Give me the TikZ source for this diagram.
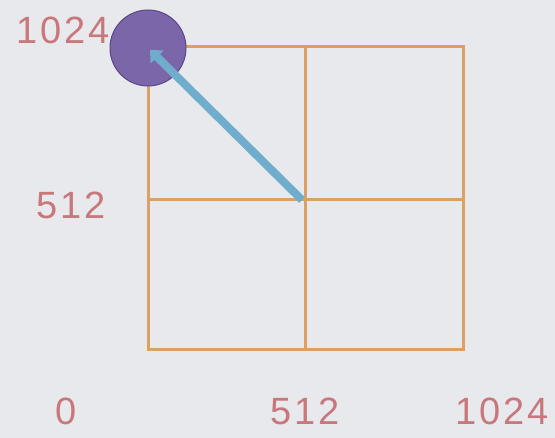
\documentclass[tikz,border=0pt]{standalone}
\usepackage{fontspec}
\setmainfont{Liberation Sans}[LetterSpace=7]
\usetikzlibrary{arrows.meta}
\definecolor{bg}{RGB}{232,233,236}
\definecolor{gridc}{RGB}{218,160,100}
\definecolor{lbl}{RGB}{200,120,124}
\definecolor{ball}{RGB}{122,102,168}
\definecolor{ballb}{RGB}{90,72,135}
\definecolor{arr}{RGB}{112,172,204}
\tikzset{
  lab/.style={text=lbl, font=\fontsize{38}{38}\selectfont, inner sep=0pt},
  gridline/.style={draw=gridc, line width=3pt},
}
\begin{document}
\begin{tikzpicture}[x=1pt,y=-1pt]
\fill[bg] (0,0) rectangle (555,438);
\useasboundingbox (0,0) rectangle (555,438);
\coordinate (tl) at (148,47);
\coordinate (br) at (463,350);
\coordinate (mid) at (302,200);
\draw[gridline] (tl) rectangle (br);
\draw[gridline] (305,47) -- (305,350);
\draw[gridline] (148,200) -- (463,200);
\node[circle, fill=ball, draw=ballb, line width=1pt, minimum size=76pt, inner sep=0pt] (ballnode) at (148,48) {};
\draw[arr, line width=8pt, -{Triangle[length=10pt,width=18pt]}] (mid) -- (150,50);
\node[lab] (t1024) at (63,30) {1024};
\node[lab] (t512l) at (71,205) {512};
\node[lab] (t0) at (66,411) {0};
\node[lab] (t512b) at (305,411) {512};
\node[lab] (t1024b) at (502,411) {1024};
\end{tikzpicture}
\end{document}
